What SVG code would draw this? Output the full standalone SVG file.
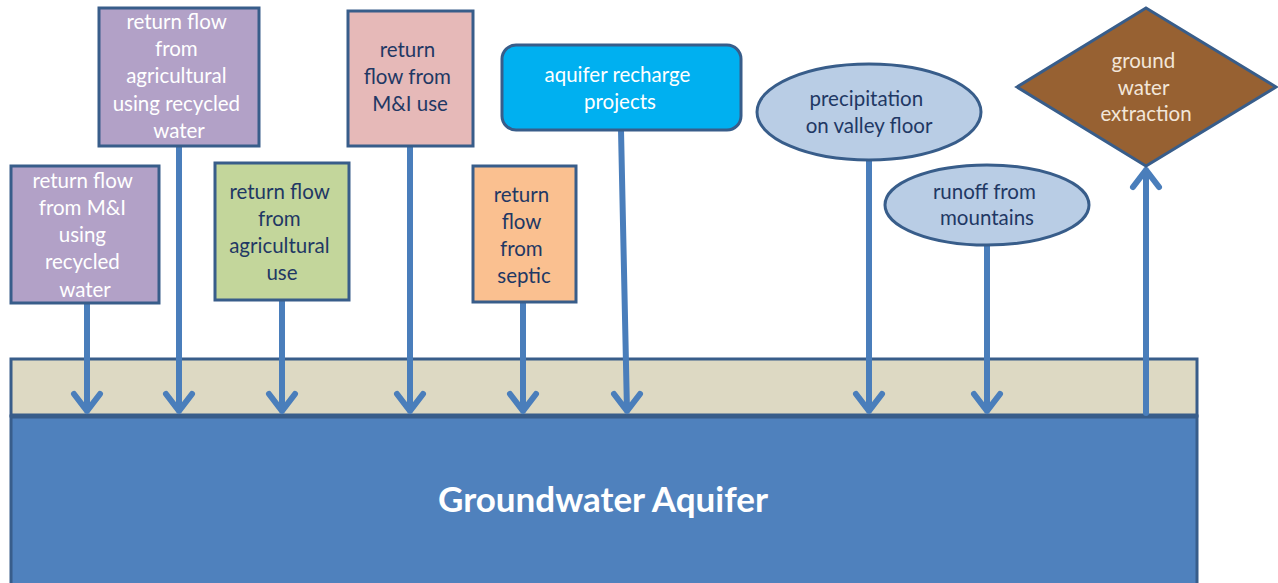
<svg xmlns="http://www.w3.org/2000/svg" width="1278" height="583" viewBox="0 0 1278 583">
  <defs>
    <style>
      .box { stroke: #385d8a; stroke-width: 3; }
      .lbl { font-family: Lato, "Open Sans", "Liberation Sans", sans-serif; font-size: 20.5px; text-anchor: middle; }
      .light { fill: #ffffff; }
      .dark { fill: #1f3864; }
      .flow { stroke: #4a7ebb; stroke-width: 6; fill: none; stroke-linecap: round; stroke-linejoin: round; }
    </style>
  </defs>

  <!-- ground layers -->
  <g id="soil">
    <rect x="11" y="359" width="1186" height="57" fill="#ddd9c3" class="box"/>
  </g>
  <g id="aquifer">
    <rect x="11" y="416" width="1186" height="170" fill="#4f81bd" class="box"/>
    <line x1="11" y1="416" x2="1197" y2="416" stroke="#385d8a" stroke-width="5"/>
    <text x="603" y="512" text-anchor="middle" font-family="Lato, 'Open Sans', 'Liberation Sans', sans-serif" font-size="35" font-weight="bold" fill="#ffffff">Groundwater Aquifer</text>
  </g>

  <!-- connectors -->
  <g id="connectors" class="flow">
    <path d="M87 303 V411 M74 394 L87 411 L100 394"/>
    <path d="M179 146 V411 M166 394 L179 411 L192 394"/>
    <path d="M282 300 V411 M269 394 L282 411 L295 394"/>
    <path d="M410 146 V411 M397 394 L410 411 L423 394"/>
    <path d="M523 302 V411 M510 394 L523 411 L536 394"/>
    <path d="M621 130 L627 411 M614 394 L627 411 L640 394"/>
    <path d="M869 160 V411 M856 394 L869 411 L882 394"/>
    <path d="M987 245 V411 M974 394 L987 411 L1000 394"/>
    <path d="M1146 413 V170 M1133 187 L1146 170 L1159 187"/>
  </g>

  <g id="mi-recycled">
    <rect x="11" y="166" width="148" height="137" fill="#b2a1c7" class="box"/>
    <text class="lbl light">
      <tspan x="85" y="188">return flow</tspan>
      <tspan x="85" y="215">from M&amp;I</tspan>
      <tspan x="85" y="242">using</tspan>
      <tspan x="85" y="269">recycled</tspan>
      <tspan x="85" y="297">water</tspan>
    </text>
  </g>

  <g id="ag-recycled">
    <rect x="99" y="8" width="160" height="138" fill="#b2a1c7" class="box"/>
    <text class="lbl light">
      <tspan x="179" y="29">return flow</tspan>
      <tspan x="179" y="56">from</tspan>
      <tspan x="179" y="83">agricultural</tspan>
      <tspan x="179" y="111">using recycled</tspan>
      <tspan x="179" y="138">water</tspan>
    </text>
  </g>

  <g id="ag-use">
    <rect x="215" y="163" width="134" height="137" fill="#c3d69b" class="box"/>
    <text class="lbl dark">
      <tspan x="282" y="199">return flow</tspan>
      <tspan x="282" y="226">from</tspan>
      <tspan x="282" y="253">agricultural</tspan>
      <tspan x="282" y="280">use</tspan>
    </text>
  </g>

  <g id="mi-use">
    <rect x="348" y="11" width="125" height="135" fill="#e6b9b8" class="box"/>
    <text class="lbl dark">
      <tspan x="410" y="57">return</tspan>
      <tspan x="410" y="84">flow from</tspan>
      <tspan x="410" y="111">M&amp;I use</tspan>
    </text>
  </g>

  <g id="septic">
    <rect x="473" y="166" width="103" height="136" fill="#fac090" class="box"/>
    <text class="lbl dark">
      <tspan x="524" y="202">return</tspan>
      <tspan x="524" y="229">flow</tspan>
      <tspan x="524" y="256">from</tspan>
      <tspan x="524" y="283">septic</tspan>
    </text>
  </g>

  <g id="recharge">
    <rect x="502" y="45" width="239" height="85" rx="14" ry="14" fill="#00b0f0" class="box"/>
    <text class="lbl light">
      <tspan x="620" y="82">aquifer recharge</tspan>
      <tspan x="620" y="109">projects</tspan>
    </text>
  </g>

  <g id="precipitation">
    <ellipse cx="869" cy="112" rx="112" ry="48" fill="#b9cde5" class="box"/>
    <text class="lbl dark">
      <tspan x="869" y="106">precipitation</tspan>
      <tspan x="869" y="133">on valley floor</tspan>
    </text>
  </g>

  <g id="runoff">
    <ellipse cx="987" cy="205" rx="102" ry="40" fill="#b9cde5" class="box"/>
    <text class="lbl dark">
      <tspan x="987" y="199">runoff from</tspan>
      <tspan x="987" y="225">mountains</tspan>
    </text>
  </g>

  <g id="extraction">
    <polygon points="1146,8 1276,87 1146,166 1017,87" fill="#976132" class="box"/>
    <text class="lbl" fill="#f2e6d9">
      <tspan x="1146" y="68">ground</tspan>
      <tspan x="1146" y="95">water</tspan>
      <tspan x="1146" y="121">extraction</tspan>
    </text>
  </g>
</svg>
